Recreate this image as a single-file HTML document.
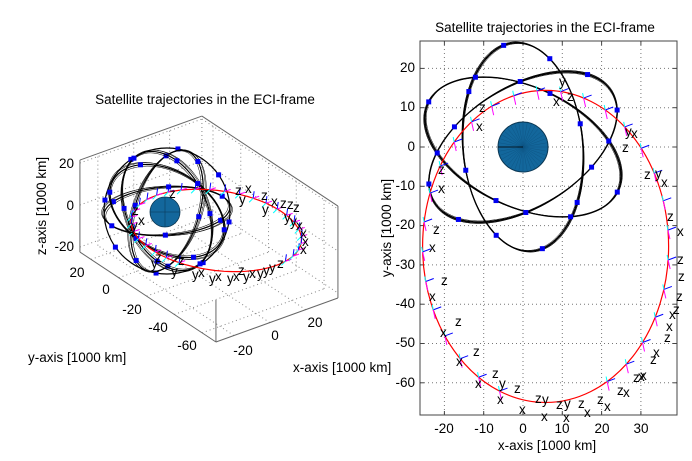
<!DOCTYPE html>
<html><head><meta charset="utf-8">
<style>
html,body{margin:0;padding:0;background:#fff;}
svg{display:block;font-family:"Liberation Sans",sans-serif;}
text{font-size:13.5px;fill:#000;}
.l text{font-size:13.5px;}
</style></head>
<body>
<svg id="s" width="692" height="461" viewBox="0 0 692 461" xmlns="http://www.w3.org/2000/svg">
<rect width="692" height="461" fill="#fff"/>
<g id="lg"></g>
<g id="rg"></g>
<rect x="420" y="41" width="257" height="374" fill="none" stroke="#444" stroke-width="1"/>
<text x="545" y="32" text-anchor="middle">Satellite trajectories in the ECI-frame</text>
<g text-anchor="end">
<text x="415" y="72">20</text><text x="415" y="111">10</text><text x="415" y="151">0</text>
<text x="415" y="190">-10</text><text x="415" y="229">-20</text><text x="415" y="269">-30</text>
<text x="415" y="308">-40</text><text x="415" y="347">-50</text><text x="415" y="387">-60</text>
</g>
<g text-anchor="middle">
<text x="444" y="433">-20</text><text x="484" y="433">-10</text><text x="523" y="433">0</text>
<text x="562" y="433">10</text><text x="602" y="433">20</text><text x="641" y="433">30</text>
</g>
<text x="547" y="450" text-anchor="middle">x-axis [1000 km]</text>
<text transform="translate(391,228) rotate(-90)" text-anchor="middle">y-axis [1000 km]</text>
<g class="l">
<text x="559" y="86">y</text><text x="567" y="101">z</text><text x="553" y="106">x</text>
<text x="479" y="112">z</text><text x="476" y="131">x</text>
<text x="625" y="136">y</text><text x="631" y="138">x</text><text x="622" y="152">z</text>
<text x="644" y="179">z</text><text x="655" y="178">y</text><text x="661" y="187">x</text>
<text x="438" y="174">z</text><text x="438" y="193">x</text>
<text x="667" y="221">z</text><text x="677" y="236">x</text>
<text x="433" y="234">z</text><text x="429" y="252">x</text>
<text x="677" y="264">z</text><text x="678" y="281">z</text><text x="676" y="301">z</text><text x="673" y="314">z</text>
<text x="669" y="319">x</text><text x="666" y="331">x</text>
<text x="441" y="285">z</text><text x="429" y="301">x</text>
<text x="455" y="326">z</text><text x="440" y="337">x</text>
<text x="664" y="342">z</text><text x="653" y="357">x</text>
<text x="473" y="356">z</text><text x="456" y="366">x</text>
<text x="650" y="364">z</text><text x="638" y="381">x</text>
<text x="492" y="378">z</text><text x="475" y="388">x</text>
<text x="633" y="382">z</text><text x="640" y="380">x</text>
<text x="499" y="388">y</text><text x="514" y="393">z</text><text x="497" y="404">x</text>
<text x="617" y="395">z</text><text x="623" y="397">x</text>
<text x="535" y="403">z</text><text x="542" y="404">y</text><text x="519" y="414">x</text>
<text x="597" y="404">z</text><text x="604" y="411">x</text>
<text x="556" y="409">z</text><text x="564" y="408">y</text><text x="541" y="421">x</text>
<text x="578" y="408">z</text><text x="584" y="417">x</text>
<text x="563" y="422">x</text>
</g>
<text x="205" y="104" text-anchor="middle">Satellite trajectories in the ECI-frame</text>
<g text-anchor="end">
<text x="74" y="168">20</text><text x="74" y="210">0</text><text x="74" y="251">-20</text>
</g>
<text transform="translate(46,206) rotate(-90)" text-anchor="middle">z-axis [1000 km]</text>
<g text-anchor="middle">
<text x="77" y="277">20</text><text x="106" y="294">0</text><text x="132" y="314">-20</text>
<text x="158" y="332">-40</text><text x="187" y="350">-60</text>
<text x="243" y="355">-20</text><text x="275" y="340">0</text><text x="315" y="327">20</text>
</g>
<text x="28" y="362">y-axis [1000 km]</text>
<text x="293" y="372">x-axis [1000 km]</text>
<g class="l">
<text x="169" y="198">z</text>
<text x="132" y="215">z</text><text x="138" y="225">x</text><text x="131" y="230">y</text>
<text x="235" y="195">z</text><text x="245" y="193">x</text><text x="239" y="204">y</text>
<text x="261" y="200">z</text><text x="271" y="206">x</text><text x="262" y="214">y</text>
<text x="280" y="208">z</text><text x="287" y="209">z</text><text x="293" y="212">z</text>
<text x="284" y="222">y</text><text x="290" y="226">y</text><text x="296" y="230">x</text>
<text x="300" y="238">x</text><text x="302" y="246">x</text><text x="300" y="254">x</text>
<text x="155" y="262">z</text><text x="151" y="268">y</text>
<text x="178" y="265">z</text><text x="171" y="276">y</text>
<text x="192" y="279">y</text><text x="198" y="277">x</text>
<text x="209" y="283">y</text><text x="215" y="281">x</text>
<text x="227" y="283">y</text><text x="233" y="281">x</text><text x="238" y="275">z</text>
<text x="243" y="281">y</text><text x="249" y="278">x</text>
<text x="257" y="278">y</text><text x="263" y="275">y</text><text x="269" y="272">y</text><text x="277" y="268">z</text>
</g>
</svg>
<script>
(function(){
var NS="http://www.w3.org/2000/svg";
function el(p,n,a){var e=document.createElementNS(NS,n);for(var k in a)e.setAttribute(k,a[k]);p.appendChild(e);return e;}
var d2r=Math.PI/180, R=26.6, inc=55*d2r;
function orb(u,O,R){R=R||26.6;var cu=Math.cos(u),su=Math.sin(u),cO=Math.cos(O),sO=Math.sin(O),ci=Math.cos(inc),si=Math.sin(inc);
return [R*(cu*cO-su*ci*sO),R*(cu*sO+su*ci*cO),R*su*si];}
var Oms=[95,32,155];
var offs=[[0,0],[0.4,0.12],[-0.4,-0.12],[0.8,0.25],[-0.8,-0.25],[1.2,0.1]];
/* RIGHT */
var rg=document.getElementById('rg');
function X(x){return 523+3.93*x;} function Y(y){return 147-3.93*y;}
for(var gx=-20;gx<=30;gx+=10) el(rg,'line',{x1:X(gx),x2:X(gx),y1:41,y2:415,stroke:'#777','stroke-width':1,'stroke-dasharray':'1,3'});
for(var gy=-60;gy<=20;gy+=10) el(rg,'line',{x1:420,x2:677,y1:Y(gy),y2:Y(gy),stroke:'#777','stroke-width':1,'stroke-dasharray':'1,3'});
for(gx=-20;gx<=30;gx+=10){el(rg,'line',{x1:X(gx),x2:X(gx),y1:415,y2:411,stroke:'#444'});el(rg,'line',{x1:X(gx),x2:X(gx),y1:41,y2:45,stroke:'#444'});}
for(gy=-60;gy<=20;gy+=10){el(rg,'line',{x1:420,x2:424,y1:Y(gy),y2:Y(gy),stroke:'#444'});el(rg,'line',{x1:677,x2:673,y1:Y(gy),y2:Y(gy),stroke:'#444'});}
el(rg,'circle',{cx:523,cy:147,r:25,fill:'#13679c',stroke:'#0a3550','stroke-width':1});
for(var a=0;a<360;a+=10){el(rg,'line',{x1:523,y1:147,x2:523+25*Math.cos(a*d2r),y2:147+25*Math.sin(a*d2r),stroke:'#0d5280','stroke-width':0.4});}
el(rg,'line',{x1:498,y1:147,x2:523,y2:147,stroke:'#000','stroke-width':0.8});
Oms.forEach(function(Om){
 offs.forEach(function(o,i){
  var pts=[];for(var u=0;u<=360;u+=3){var p=orb(u*d2r,(Om+o[0])*d2r,R+o[1]);pts.push(X(p[0]).toFixed(1)+','+Y(p[1]).toFixed(1));}
  el(rg,'polyline',{points:pts.join(' '),fill:'none',stroke:'#000','stroke-width':i==0?1.3:0.5});
 });
});
Oms.forEach(function(Om,k){
 for(var j=0;j<8;j++){var p=orb((j*45+k*17+10)*d2r,Om*d2r);el(rg,'rect',{x:X(p[0])-2.5,y:Y(p[1])-2.5,width:5,height:5,fill:'#0000f0'});}
});
el(rg,'ellipse',{cx:X(5.75),cy:Y(-25.3),rx:31.3*3.93,ry:39.7*3.93,fill:'none',stroke:'#f00','stroke-width':1.2});
for(var t=-60;t<=250;t+=11){
 var th=t*d2r;var cx=X(5.75+31.3*Math.cos(th)),cy=Y(-25.3+39.7*Math.sin(th));
 if(cy<95&&cx<500)continue;
 el(rg,'line',{x1:cx,y1:cy,x2:cx+8,y2:cy-3,stroke:'#00f','stroke-width':1});
 el(rg,'line',{x1:cx,y1:cy,x2:cx+2,y2:cy+9,stroke:'#f0f','stroke-width':1});
 el(rg,'line',{x1:cx,y1:cy,x2:cx-1,y2:cy-5,stroke:'#0ff','stroke-width':1});
}
/* LEFT */
var lg=document.getElementById('lg');
function P(x,y,z){return [172.6+1.794*x-1.388*y,211.3-0.647*x-0.918*y-2.1*z];}
function P2(x,y,z){return [167+1.95*x-1.5*y,212-0.686*x-0.885*y-2.124*z];}
var xmin=-30,xmax=38,ymin=-70,ymax=28,zmin=-22.4,zmax=21.4;
function L(a,b,st){var p=P.apply(null,a),q=P.apply(null,b);var o={x1:p[0],y1:p[1],x2:q[0],y2:q[1],stroke:st?'#888':'#666','stroke-width':1};if(st)o['stroke-dasharray']='1,3';el(lg,'line',o);}
[-20,0,20].forEach(function(v){L([v,ymin,zmin],[v,ymax,zmin],1);L([v,ymax,zmin],[v,ymax,zmax],1);});
[-60,-40,-20,0,20].forEach(function(v){L([xmin,v,zmin],[xmax,v,zmin],1);L([xmax,v,zmin],[xmax,v,zmax],1);});
[-20,0,20].forEach(function(v){L([xmin,ymax,v],[xmax,ymax,v],1);L([xmax,ymax,v],[xmax,ymin,v],1);});
L([xmax,ymax,zmin],[xmax,ymax,zmax],1);
L([xmin,ymax,zmax],[xmax,ymax,zmax]);L([xmax,ymax,zmax],[xmax,ymin,zmax]);
L([xmin,ymax,zmin],[xmin,ymax,zmax]);L([xmax,ymin,zmin],[xmax,ymin,zmax]);
L([xmin,ymax,zmin],[xmin,ymin,zmin]);L([xmin,ymin,zmin],[xmax,ymin,zmin]);
L([xmin,ymin,zmin],[xmin,ymin,zmin+20]);
/* 2D approximated orbit shapes: [rx, ry, rotation deg] */
var cx0=167,cy0=211;
var shapes=[[63,63,0],[63,24,-4],[32,63,18],[40,63,-25],[62,40,30]];
shapes.forEach(function(s,k){
 [[0,0,1.2],[1.5,1,0.5],[-1.5,-1,0.5],[2.5,0.5,0.5]].forEach(function(o){
  if(k==0&&o[0]!=0)return;
  el(lg,'ellipse',{cx:cx0,cy:cy0,rx:s[0]+o[0],ry:s[1]+o[1],transform:'rotate('+(s[2]+o[0])+' '+cx0+' '+cy0+')',fill:'none',stroke:'#000','stroke-width':o[2]});
 });
 var n=k==0?8:6;
 for(var j=0;j<n;j++){var u=(j*360/n+k*23+10)*d2r,r=s[2]*d2r;
  var ex=s[0]*Math.cos(u),ey=s[1]*Math.sin(u);
  var px=cx0+ex*Math.cos(r)-ey*Math.sin(r),py=cy0+ex*Math.sin(r)+ey*Math.cos(r);
  el(lg,'rect',{x:px-2.5,y:py-2.5,width:5,height:5,fill:'#0000f0'});}
});
el(lg,'circle',{cx:165,cy:212,r:15,fill:'#13679c',stroke:'#0a3550','stroke-width':0.8});
el(lg,'line',{x1:150,y1:212,x2:180,y2:212,stroke:'#0a3550','stroke-width':0.5});
el(lg,'line',{x1:165,y1:197,x2:165,y2:227,stroke:'#0a3550','stroke-width':0.5});
var pts=[];for(var u=0;u<=360;u+=3){var th=u*d2r;var q=P2(5.75+31.3*Math.cos(th),-25.3+39.7*Math.sin(th),0);pts.push(q[0].toFixed(1)+','+q[1].toFixed(1));}
el(lg,'polyline',{points:pts.join(' '),fill:'none',stroke:'#f00','stroke-width':1.2});
for(var t=-80;t<=200;t+=10){var th=t*d2r;var q=P2(5.75+31.3*Math.cos(th),-25.3+39.7*Math.sin(th),0);
 el(lg,'line',{x1:q[0],y1:q[1],x2:q[0]+1,y2:q[1]-7,stroke:'#00f','stroke-width':1});
 el(lg,'line',{x1:q[0],y1:q[1],x2:q[0]+6,y2:q[1]-2,stroke:'#f0f','stroke-width':1});
 el(lg,'line',{x1:q[0],y1:q[1],x2:q[0]-4,y2:q[1]+4,stroke:'#0ff','stroke-width':1});}
})();
</script>
</body></html>
